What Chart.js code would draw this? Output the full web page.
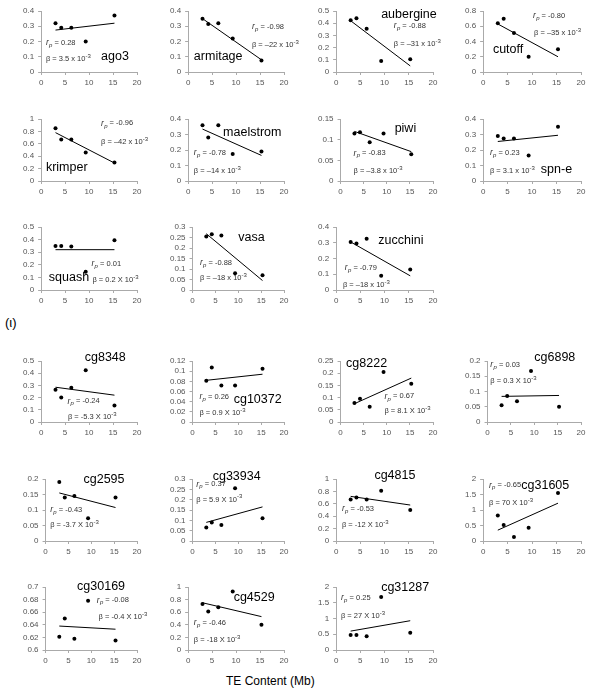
<!DOCTYPE html>
<html><head><meta charset="utf-8">
<script src="https://cdn.jsdelivr.net/npm/chart.js@4.4.1/dist/chart.umd.min.js"></script>
<style>
body{margin:0;background:#fff;}
#wrap{position:relative;width:600px;height:700px;font-family:Arial,'Liberation Sans',sans-serif;background:#fff;}
canvas{position:absolute;}
.t{position:absolute;white-space:nowrap;color:#000;line-height:1;}
</style></head><body><div id="wrap">
<div class="t" style="left:5px;top:316px;font-size:13px;">(ι)</div>
<div class="t" style="left:226px;top:675px;font-size:12px;">TE Content (Mb)</div>
</div>
<script>
// ---- data ----
const teContent = [3.0, 4.2, 6.3, 9.3, 15.3];
const geneNames = ['ago3','armitage','aubergine','cutoff','krimper','maelstrom','piwi','spn-e','squash','vasa','zucchini',
  'cg8348','cg10372','cg8222','cg6898','cg2595','cg33934','cg4815','cg31605','cg30169','cg4529','cg31287'];
const geneValues = [
  [0.32,0.29,0.29,0.20,0.37],
  [0.35,0.315,0.32,0.22,0.075],
  [0.425,0.44,0.355,0.09,0.105],
  [0.64,0.70,0.51,0.20,0.30],
  [0.85,0.67,0.67,0.46,0.30],
  [0.36,0.28,0.36,0.175,0.19],
  [0.115,0.118,0.094,0.115,0.065],
  [0.29,0.275,0.275,0.165,0.35],
  [0.35,0.35,0.345,0.145,0.395],
  [0.255,0.265,0.26,0.08,0.07],
  [0.305,0.295,0.325,0.09,0.13],
  [0.265,0.20,0.28,0.425,0.135],
  [0.081,0.107,0.072,0.072,0.105],
  [0.078,0.095,0.062,0.205,0.157],
  [0.055,0.085,0.068,0.167,0.05],
  [0.19,0.14,0.145,0.073,0.14],
  [0.065,0.09,0.077,0.255,0.11],
  [0.67,0.70,0.67,0.81,0.50],
  [0.82,0.52,0.13,0.43,1.55],
  [0.621,0.65,0.618,0.678,0.615],
  [0.73,0.61,0.68,0.93,0.40],
  [0.48,0.48,0.44,1.68,0.55]
];
const trendStart = [0.275,0.35,0.42,0.63,0.78,0.335,0.12,0.255,0.32,0.268,0.305,
  0.285,0.082,0.075,0.084,0.155,0.09,0.72,0.35,0.638,0.75,0.60];
const trendEnd = [0.32,0.08,0.05,0.20,0.29,0.165,0.071,0.295,0.32,0.045,0.09,
  0.22,0.094,0.18,0.087,0.108,0.165,0.58,1.22,0.633,0.53,0.93];
const rpValues = ['0.28','-0.98','-0.88','-0.80','-0.96','-0.78','-0.83','0.23','0.01','-0.88','-0.79',
  '-0.24','0.26','0.67','0.03','-0.43','0.37','-0.53','-0.65','-0.08','-0.46','0.25'];
const betaLabels = ['3.5 x','\u201322 x','\u201331 x','\u201335 x','\u201342 x','\u201314 x','\u20133.8 x','3.1 x','0.2 X','\u201318 x','\u201318 x',
  '-5.3 X','0.9 X','8.1 X','0.3 X','-3.7 X','5.9 X','-12 X','70 X','-0.4 X','-18 X','27 X'];
const yMin = [0,0,0,0,0,0,0,0,0,0,0, 0,0,0,0,0,0,0,0,0.6,0,0];
const yMax = [0.4,0.4,0.5,0.8,1,0.4,0.15,0.4,0.5,0.3,0.4, 0.5,0.12,0.25,0.2,0.2,0.3,1,2,0.7,1,2];
const yStep = [0.1,0.1,0.1,0.2,0.2,0.1,0.05,0.1,0.1,0.05,0.1, 0.1,0.02,0.05,0.05,0.05,0.05,0.2,0.5,0.02,0.2,0.5];

// ---- layout / style (annotation anchors in data units: label, r_p, beta) ----
const notePos = [
  [12.5,0.1, 1.0,0.19, 1.0,0.085],
  [1.2,0.1, 13.3,0.295, 13.3,0.177],
  [9.3,0.475, 11.9,0.38, 11.9,0.23],
  [2,0.29, 10.2,0.74, 10.4,0.51],
  [1,0.21, 12.5,0.93, 12.5,0.63],
  [7.3,0.31, 1.2,0.18, 1.2,0.065],
  [11.7,0.128, 2.8,0.067, 2.8,0.024],
  [11.8,0.077, 1.4,0.18, 1.4,0.065],
  [1.6,0.095, 10.5,0.21, 10.7,0.08],
  [10,0.25, 1.6,0.13, 1.6,0.057],
  [8.7,0.316, 1.8,0.14, 1.4,0.03],
  [9.1,0.53, 5.5,0.17, 5.6,0.04],
  [9,0.045, 1.5,0.049, 1.5,0.018],
  [1.2,0.238, 9.5,0.105, 9.5,0.045],
  [10,0.21, 0.6,0.187, 0.6,0.134],
  [8.3,0.197, 1,0.1, 1,0.052],
  [4.4,0.31, 0.8,0.275, 0.8,0.2],
  [7.9,1.05, 1.2,0.52, 1.2,0.26],
  [7.8,1.8, 1.2,1.8, 1.2,1.22],
  [6.9,0.7, 11.2,0.679, 11.6,0.652],
  [9.5,0.84, 1.2,0.43, 1.2,0.16],
  [9.3,1.98, 1,1.65, 1,1.08]
];
const rowTop = [11,119,227,361,479,587];
const rowBottom = [72,181,290,422,541,650];
const colLeft = [19,166,314,461];
const colRight = [137,284,433,581];
const panelRow = [0,0,0,0,1,1,1,1,2,2,2, 3,3,3,3,4,4,4,4,5,5,5];
const panelCol = [0,1,2,3,0,1,2,3,0,1,2, 0,1,2,3,0,1,2,3,0,1,2];

const FF = 'Arial, "Liberation Sans", sans-serif';
Chart.defaults.font.family = FF;

const notesPlugin = {
  id: 'notes',
  afterDatasetsDraw(chart, args, opts) {
    const i = opts.index;
    const ctx = chart.ctx, xs = chart.scales.x, ys = chart.scales.y;
    const p = notePos[i];
    ctx.save();
    ctx.textBaseline = 'middle'; ctx.textAlign = 'left';
    ctx.fillStyle = '#000';
    ctx.font = '12.5px ' + FF;
    ctx.fillText(geneNames[i], xs.getPixelForValue(p[0]), ys.getPixelForValue(p[1]));
    ctx.fillStyle = '#333';
    let x = xs.getPixelForValue(p[2]), y = ys.getPixelForValue(p[3]);
    ctx.font = 'italic 8.5px ' + FF; ctx.fillText('r', x, y); x += ctx.measureText('r').width + 0.3;
    ctx.font = 'italic 6px ' + FF; ctx.fillText('p', x, y + 2.5); x += ctx.measureText('p').width;
    ctx.font = '7.5px ' + FF; ctx.fillText(' = ' + rpValues[i], x, y);
    x = xs.getPixelForValue(p[4]); y = ys.getPixelForValue(p[5]);
    ctx.font = '7.5px ' + FF; const bt = '\u03b2 = ' + betaLabels[i] + ' 10';
    ctx.fillText(bt, x, y); x += ctx.measureText(bt).width;
    ctx.font = '6px ' + FF; ctx.fillText('-3', x, y - 3);
    ctx.restore();
  }
};

const wrap = document.getElementById('wrap');
const PADT = 14, XH = 16, PADR = 22;
geneNames.forEach((g, i) => {
  const r = panelRow[i], c = panelCol[i];
  const cv = document.createElement('canvas');
  const W = Math.min(colRight[c] + PADR, 600) - colLeft[c];
  const padR = colLeft[c] + W - colRight[c];
  const H = rowBottom[r] - rowTop[r] + PADT + XH;
  cv.width = W; cv.height = H;
  cv.style.left = colLeft[c] + 'px'; cv.style.top = (rowTop[r] - PADT) + 'px';
  cv.style.width = W + 'px'; cv.style.height = H + 'px';
  wrap.appendChild(cv);
  new Chart(cv, {
    type: 'scatter',
    data: { datasets: [
      { data: teContent.map((x, j) => ({ x, y: geneValues[i][j] })), pointRadius: 2, pointBackgroundColor: '#000', pointBorderWidth: 0, showLine: false },
      { data: [{ x: teContent[0], y: trendStart[i] }, { x: teContent[teContent.length - 1], y: trendEnd[i] }],
        showLine: true, borderColor: '#000', borderWidth: 1, pointRadius: 0, fill: false }
    ]},
    options: {
      responsive: false, animation: false, devicePixelRatio: 1,
      layout: { padding: { left: 0, right: padR, top: PADT, bottom: 0 } },
      plugins: { legend: { display: false }, tooltip: { enabled: false }, notes: { index: i } },
      scales: {
        x: { type: 'linear', min: 0, max: 20,
          ticks: { stepSize: 5, autoSkip: false, maxRotation: 0, font: { size: 8 }, color: '#555', padding: 3 },
          grid: { drawOnChartArea: false, tickLength: 3, color: '#aaa' },
          border: { color: '#aaa' },
          afterFit(s) { s.height = XH; } },
        y: { type: 'linear', min: yMin[i], max: yMax[i],
          ticks: { stepSize: yStep[i], autoSkip: false, font: { size: 8 }, color: '#555', padding: 4,
            callback: v => String(parseFloat(Number(v).toFixed(4))) },
          grid: { drawOnChartArea: false, tickLength: 3, color: '#aaa' },
          border: { color: '#aaa' } }
      }
    },
    plugins: [notesPlugin]
  });
});
</script>
</body></html>
